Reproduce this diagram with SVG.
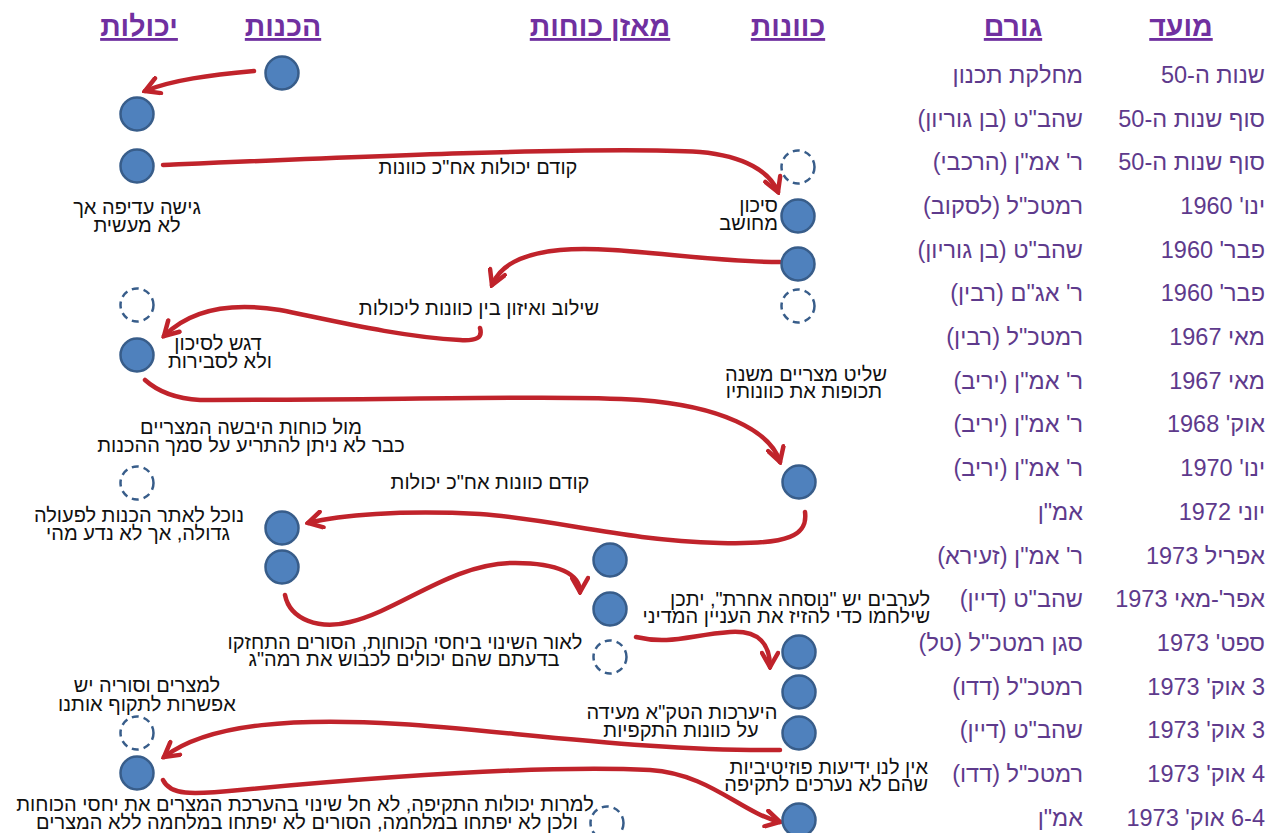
<svg xmlns="http://www.w3.org/2000/svg" width="1267" height="833" viewBox="0 0 1267 833">
<style>
.h{font-family:"Liberation Sans",Arial,sans-serif;font-weight:bold;font-size:28.5px;fill:#7030A0;text-decoration:underline;direction:rtl;text-anchor:middle}
.d{font-family:"Liberation Sans",Arial,sans-serif;font-size:23.5px;fill:#5e3a8c;direction:rtl;text-anchor:start}
.t{font-family:"Liberation Sans",Arial,sans-serif;font-size:20px;fill:#111;direction:rtl;text-anchor:middle}
.tr{font-family:"Liberation Sans",Arial,sans-serif;font-size:20px;fill:#111;direction:rtl;text-anchor:start}
.n{fill:#4f81bd;stroke:#385d8a;stroke-width:2.5}
.dn{fill:#fff;stroke:#385d8a;stroke-width:2.5;stroke-dasharray:7 5}
.a{fill:none;stroke:#c0232b;stroke-width:4.5;stroke-linecap:round;marker-end:url(#ah)}
</style>
<defs>
<marker id="ah" viewBox="0 0 20 20" refX="17" refY="10" markerWidth="20" markerHeight="20" markerUnits="userSpaceOnUse" orient="auto">
<path d="M3,2 L17,10 L3,18" fill="none" stroke="#c0232b" stroke-width="4.5" stroke-linecap="round"/>
</marker>
</defs>
<rect width="1267" height="833" fill="#fff"/>

<g id="headers">
<text class="h" x="139" y="36">יכולות</text>
<text class="h" x="283" y="36">הכנות</text>
<text class="h" x="600" y="36">מאזן כוחות</text>
<text class="h" x="788" y="36">כוונות</text>
<text class="h" x="1013" y="36">גורם</text>
<text class="h" x="1181" y="36">מועד</text>
</g>

<g id="table">
<g id="row1"><text class="d" x="1265" y="83">שנות ה-50</text><text class="d" x="1083" y="83">מחלקת תכנון</text></g>
<g id="row2"><text class="d" x="1265" y="127">סוף שנות ה-50</text><text class="d" x="1083" y="127">שהב"ט (בן גוריון)</text></g>
<g id="row3"><text class="d" x="1265" y="170">סוף שנות ה-50</text><text class="d" x="1083" y="170">ר' אמ"ן (הרכבי)</text></g>
<g id="row4"><text class="d" x="1265" y="214">ינו' 1960</text><text class="d" x="1083" y="214">רמטכ"ל (לסקוב)</text></g>
<g id="row5"><text class="d" x="1265" y="258">פבר' 1960</text><text class="d" x="1083" y="258">שהב"ט (בן גוריון)</text></g>
<g id="row6"><text class="d" x="1265" y="301">פבר' 1960</text><text class="d" x="1083" y="301">ר' אג"ם (רבין)</text></g>
<g id="row7"><text class="d" x="1265" y="345">מאי 1967</text><text class="d" x="1083" y="345">רמטכ"ל (רבין)</text></g>
<g id="row8"><text class="d" x="1265" y="389">מאי 1967</text><text class="d" x="1083" y="389">ר' אמ"ן (יריב)</text></g>
<g id="row9"><text class="d" x="1265" y="432">אוק' 1968</text><text class="d" x="1083" y="432">ר' אמ"ן (יריב)</text></g>
<g id="row10"><text class="d" x="1265" y="476">ינו' 1970</text><text class="d" x="1083" y="476">ר' אמ"ן (יריב)</text></g>
<g id="row11"><text class="d" x="1265" y="520">יוני 1972</text><text class="d" x="1083" y="520">אמ"ן</text></g>
<g id="row12"><text class="d" x="1265" y="564">אפריל 1973</text><text class="d" x="1083" y="564">ר' אמ"ן (זעירא)</text></g>
<g id="row13"><text class="d" x="1265" y="607">אפר'-מאי 1973</text><text class="d" x="1083" y="607">שהב"ט (דיין)</text></g>
<g id="row14"><text class="d" x="1265" y="651">ספט' 1973</text><text class="d" x="1083" y="651">סגן רמטכ"ל (טל)</text></g>
<g id="row15"><text class="d" x="1265" y="695">3 אוק' 1973</text><text class="d" x="1083" y="695">רמטכ"ל (דדו)</text></g>
<g id="row16"><text class="d" x="1265" y="738">3 אוק' 1973</text><text class="d" x="1083" y="738">שהב"ט (דיין)</text></g>
<g id="row17"><text class="d" x="1265" y="782">4 אוק' 1973</text><text class="d" x="1083" y="782">רמטכ"ל (דדו)</text></g>
<g id="row18"><text class="d" x="1265" y="826">6-4 אוק' 1973</text><text class="d" x="1083" y="826">אמ"ן</text></g>
</g>

<g id="connectors">
<path class="a" d="M254,71 C210,75 172,80 145,91"/>
<path class="a" d="M163,165 C350,157 600,146 700,152 C745,156 770,172 778,192"/>
<path class="a" d="M780,262 C700,262 620,245 560,250 C520,254 500,266 492,285"/>
<path class="a" d="M480,328 C483,338 476,341 460,340 C400,337 330,320 280,310 C230,302 190,310 164,336"/>
<path class="a" d="M145,380 Q165,398 200,400 C400,400 560,395 640,400 C720,406 770,430 780,462"/>
<path class="a" d="M805,512 C808,535 790,545 720,543 C620,540 560,520 480,514 C400,510 340,515 308,523"/>
<path class="a" d="M285,595 C290,620 320,630 350,622 C400,610 450,565 510,563 C560,562 580,575 580,592"/>
<path class="a" d="M636,637 C670,645 690,635 730,632 C760,630 770,645 770,667"/>
<path class="a" d="M780,750 C650,752 500,730 400,724 C300,718 210,722 164,757"/>
<path class="a" d="M163,780 C170,795 190,795 240,790 C400,775 550,765 650,770 C710,774 740,812 780,822"/>
</g>

<g id="connector-labels">
<text class="t" x="478" y="174">קודם יכולות אח"כ כוונות</text>
<text class="t" x="479" y="315">שילוב ואיזון בין כוונות ליכולות</text>
<text class="t" x="490" y="489">קודם כוונות אח"כ יכולות</text>
</g>

<g id="n-prep1"><circle class="n" cx="282" cy="73" r="16.5"/></g>
<g id="n-cap1"><circle class="n" cx="137" cy="114" r="16.5"/></g>
<g id="n-cap2"><circle class="n" cx="137" cy="166" r="16.5"/>
<text class="t" x="137" y="214">גישה עדיפה אך</text><text class="t" x="137" y="232">לא מעשית</text></g>
<g id="n-int1"><circle class="dn" cx="798" cy="167" r="16.5"/></g>
<g id="n-int2"><circle class="n" cx="798" cy="216" r="16.5"/>
<text class="tr" x="778" y="212">סיכון</text><text class="tr" x="778" y="230">מחושב</text></g>
<g id="n-int3"><circle class="n" cx="798" cy="264" r="16.5"/></g>
<g id="n-int4"><circle class="dn" cx="798" cy="306" r="16.5"/></g>
<g id="n-cap3"><circle class="dn" cx="137" cy="305" r="16.5"/></g>
<g id="n-cap4"><circle class="n" cx="137" cy="355" r="16.5"/>
<text class="t" x="218" y="350">דגש לסיכון</text><text class="t" x="220" y="368">ולא לסבירות</text></g>
<g id="n-int5"><circle class="n" cx="799" cy="482" r="16.5"/>
<text class="t" x="806" y="381">שליט מצריים משנה</text><text class="t" x="804" y="398">תכופות את כוונותיו</text></g>
<g id="n-cap5"><circle class="dn" cx="137" cy="483" r="16.5"/>
<text class="t" x="251" y="434">מול כוחות היבשה המצריים</text><text class="t" x="251" y="452">כבר לא ניתן להתריע על סמך ההכנות</text></g>
<g id="n-prep2"><circle class="n" cx="282" cy="528" r="16.5"/>
<text class="t" x="139" y="522">נוכל לאתר הכנות לפעולה</text><text class="t" x="138" y="540">גדולה, אך לא נדע מהי</text></g>
<g id="n-prep3"><circle class="n" cx="282" cy="567" r="16.5"/></g>
<g id="n-bal1"><circle class="n" cx="610" cy="560" r="16.5"/></g>
<g id="n-bal2"><circle class="n" cx="610" cy="609" r="16.5"/>
<text class="tr" x="930" y="606">לערבים יש "נוסחה אחרת", יתכן</text><text class="tr" x="930" y="623">שילחמו כדי להזיז את העניין המדיני</text></g>
<g id="n-bal3"><circle class="dn" cx="610" cy="657" r="16.5"/>
<text class="t" x="405" y="649">לאור השינוי ביחסי הכוחות, הסורים התחזקו</text><text class="t" x="404" y="666">בדעתם שהם יכולים לכבוש את רמה"ג</text></g>
<g id="n-int6"><circle class="n" cx="799" cy="652" r="16.5"/></g>
<g id="n-int7"><circle class="n" cx="799" cy="692" r="16.5"/></g>
<g id="n-int8"><circle class="n" cx="799" cy="733" r="16.5"/>
<text class="t" x="682" y="719">היערכות הטק"א מעידה</text><text class="t" x="681" y="737">על כוונות התקפיות</text></g>
<g id="n-cap6"><circle class="dn" cx="137" cy="733" r="16.5"/>
<text class="t" x="147" y="692">למצרים וסוריה יש</text><text class="t" x="147" y="711">אפשרות לתקוף אותנו</text></g>
<g id="n-cap7"><circle class="n" cx="137" cy="773" r="16.5"/></g>
<g id="n-int9"><circle class="n" cx="799" cy="820" r="16.5"/>
<text class="tr" x="928" y="774">אין לנו ידיעות פוזיטיביות</text><text class="tr" x="928" y="791">שהם לא נערכים לתקיפה</text></g>
<g id="n-bal4"><circle class="dn" cx="607" cy="823" r="16.5"/>
<text class="t" x="305" y="811">למרות יכולות התקיפה, לא חל שינוי בהערכת המצרים את יחסי הכוחות</text><text class="t" x="307" y="829">ולכן לא יפתחו במלחמה, הסורים לא יפתחו במלחמה ללא המצרים</text></g>
</svg>
